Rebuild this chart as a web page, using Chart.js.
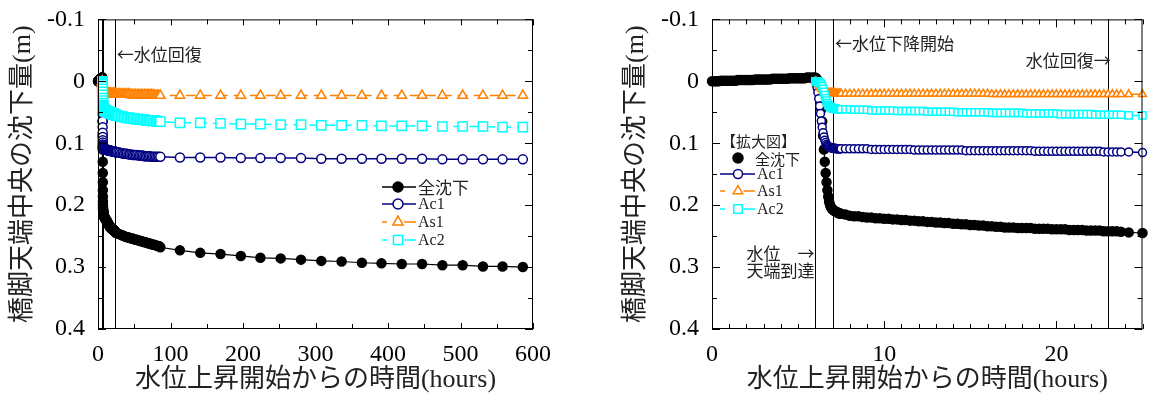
<!DOCTYPE html>
<html>
<head>
<meta charset="utf-8">
<script src="https://cdn.jsdelivr.net/npm/chart.js@4"></script>
<style>
html, body { margin: 0; padding: 0; background: #fff; }
#wrap { position: relative; width: 1149px; height: 396px; }
#leftBox { position: absolute; left: 0; top: 0; width: 575px; height: 396px; }
#rightBox { position: absolute; left: 575px; top: 0; width: 574px; height: 396px; }
</style>
</head>
<body>
<div id="wrap">
  <div id="leftBox"><canvas id="leftChart" width="575" height="396"></canvas></div>
  <div id="rightBox"><canvas id="rightChart" width="574" height="396"></canvas></div>
</div>
<script>
// 水位上昇中 0〜6 h (全沈下のみ)
const riseHours = [0,0.125,0.25,0.375,0.5,0.625,0.75,0.875,1,1.125,1.25,1.375,1.5,1.625,1.75,1.875,
  2,2.125,2.25,2.375,2.5,2.625,2.75,2.875,3,3.125,3.25,3.375,3.5,3.625,3.75,3.875,
  4,4.125,4.25,4.375,4.5,4.625,4.75,4.875,5,5.125,5.25,5.375,5.5,5.625,5.75,5.875];
const riseTotal = [0,0,0,0, -0.001,-0.001,-0.001,-0.001,-0.001,-0.001,-0.001,-0.001,
  -0.002,-0.002,-0.002,-0.002,-0.002,-0.002,-0.002,-0.002, -0.003,-0.003,-0.003,-0.003,-0.003,-0.003,-0.003,-0.003,
  -0.004,-0.004,-0.004,-0.004,-0.004,-0.004,-0.004,-0.004, -0.005,-0.005,-0.005,-0.005,-0.005,-0.005,-0.005,-0.005,
  -0.006,-0.006,-0.006,-0.006];

// 天端到達〜沈下 6〜7.5 h
const dropHours = [6,6.05,6.1,6.15,6.2,6.25,6.3,6.35,6.4,6.45,6.5,6.55,6.6,6.65,6.7,6.75,6.8,6.85,6.9,6.95,
  7,7.05,7.1,7.15,7.2,7.25,7.3,7.35,7.4,7.45,7.5];
const dropTotal = [-0.006,-0.005,-0.003,0.000,0.006,0.015,0.028,0.045,0.065,0.088,
  0.110,0.130,0.148,0.163,0.176,0.186,0.194,0.199,0.203,0.205,
  0.207,0.208,0.209,0.210,0.211,0.211,0.212,0.213,0.213,0.214,0.214];
const dropAc1 = [0,0.004,0.010,0.018,0.028,0.040,0.052,0.064,0.074,0.083,
  0.090,0.095,0.099,0.102,0.104,0.105,0.106,0.107,0.107,0.108,
  0.108,0.108,0.108,0.108,0.109,0.109,0.109,0.109,0.109,0.109,0.109];
const dropAs1 = [0,0.001,0.002,0.003,0.005,0.007,0.009,0.011,0.013,0.015,
  0.016,0.017,0.018,0.018,0.019,0.019,0.019,0.019,0.019,0.019,
  0.019,0.019,0.019,0.020,0.020,0.020,0.020,0.020,0.020,0.020,0.020];
const dropAc2 = [0,0,0,0.001,0.001,0.002,0.003,0.005,0.008,0.012,
  0.017,0.022,0.027,0.031,0.035,0.038,0.040,0.041,0.042,0.043,
  0.043,0.044,0.044,0.044,0.044,0.045,0.045,0.045,0.045,0.045,0.045];

// 7.75〜25 h
const flatHours = [7.75,8,8.25,8.5,8.75,9,9.25,9.5,9.75,10,10.25,10.5,10.75,11,11.25,11.5,11.75,12,
  12.25,12.5,12.75,13,13.25,13.5,13.75,14,14.25,14.5,14.75,15,15.25,15.5,15.75,16,16.25,16.5,16.75,17,
  17.25,17.5,17.75,18,18.25,18.5,18.75,19,19.25,19.5,19.75,20,20.25,20.5,20.75,21,21.25,21.5,21.75,22,
  22.25,22.5,22.75,23,23.25,23.5,23.75,24.2,25];
const flatTotal = [0.215,0.217,
  0.218,0.218,0.219,0.220, 0.220,0.221,0.221,0.222, 0.222,0.223,0.223,0.224, 0.224,0.225,0.225,0.226,
  0.226,0.227,0.227,0.228, 0.228,0.229,0.229,0.230, 0.230,0.231,0.231,0.232, 0.232,0.233,0.233,0.234,
  0.234,0.235,0.235,0.236, 0.236,0.236,0.237,0.237, 0.237,0.237,0.238,0.238, 0.238,0.238,0.239,0.239,
  0.239,0.239,0.240,0.240, 0.240,0.240,0.241,0.241, 0.241,0.241,0.242,0.242, 0.242,0.242,0.243, 0.244,0.245];
const flatAc1 = [0.109,0.109,
  0.109,0.109,0.109,0.109, 0.110,0.110,0.110,0.110, 0.110,0.110,0.110,0.110, 0.110,0.110,0.111,0.111,
  0.111,0.111,0.111,0.111, 0.111,0.111,0.111,0.111, 0.111,0.111,0.112,0.112, 0.112,0.112,0.112,0.112,
  0.112,0.112,0.112,0.112, 0.112,0.112,0.112,0.112, 0.112,0.112,0.113,0.113, 0.113,0.113,0.113,0.113,
  0.113,0.113,0.113,0.113, 0.113,0.113,0.113,0.113, 0.113,0.113,0.114,0.114, 0.114,0.114,0.114, 0.114,0.115];
const flatAs1 = [0.020,0.020,
  0.020,0.020,0.020,0.020, 0.020,0.020,0.020,0.020, 0.020,0.020,0.020,0.020, 0.020,0.020,0.020,0.020,
  0.020,0.020,0.020,0.020, 0.020,0.020,0.020,0.020, 0.020,0.020,0.020,0.020, 0.020,0.020,0.020,0.020,
  0.021,0.021,0.021,0.021, 0.021,0.021,0.021,0.021, 0.021,0.021,0.021,0.021, 0.021,0.021,0.021,0.021,
  0.021,0.021,0.021,0.021, 0.021,0.021,0.021,0.021, 0.021,0.021,0.021,0.021, 0.021,0.021,0.021, 0.021,0.021];
const flatAc2 = [0.045,0.045,
  0.046,0.046,0.046,0.046, 0.047,0.047,0.047,0.047, 0.047,0.047,0.048,0.048, 0.048,0.048,0.048,0.048,
  0.048,0.049,0.049,0.049, 0.049,0.049,0.049,0.049, 0.050,0.050,0.050,0.050, 0.050,0.050,0.050,0.050,
  0.051,0.051,0.051,0.051, 0.051,0.051,0.051,0.051, 0.052,0.052,0.052,0.052, 0.052,0.052,0.052,0.052,
  0.053,0.053,0.053,0.053, 0.053,0.053,0.053,0.053, 0.054,0.054,0.054,0.054, 0.054,0.054,0.054, 0.055,0.055];

// 全体図 26〜84 h
const midHours = [26,28,30,32,34,36,38,40,42,44,46,48,50,52,54,56,58,60,62,64,66,68,70,72,74,76,78,80,82,84];
const midTotal = [0.245,0.246,0.247,0.248,0.249,0.250,0.251,0.252,0.252,0.253,0.254,0.254,0.255,0.256,0.256,
  0.257,0.258,0.258,0.259,0.260,0.260,0.261,0.262,0.262,0.263,0.264,0.264,0.265,0.266,0.266];
const midAc1 = [0.114,0.115,0.115,0.116,0.116,0.117,0.117,0.117,0.118,0.118,0.118,0.119,0.119,0.119,0.119,
  0.120,0.120,0.120,0.120,0.121,0.121,0.121,0.121,0.121,0.122,0.122,0.122,0.122,0.122,0.122];
const midAs1 = [0.021,0.021,0.021,0.021,0.021,0.021,0.021,0.021,0.021,0.021,0.022,0.022,0.022,0.022,0.022,
  0.022,0.022,0.022,0.022,0.022,0.022,0.022,0.022,0.022,0.022,0.022,0.023,0.023,0.023,0.023];
const midAc2 = [0.055,0.056,0.056,0.057,0.057,0.058,0.058,0.059,0.059,0.059,0.060,0.060,0.060,0.061,0.061,
  0.061,0.062,0.062,0.062,0.062,0.063,0.063,0.063,0.063,0.064,0.064,0.064,0.064,0.065,0.065];

// 全体図 sparse points
const longHours = [86,113,141,169,197,224,252,280,308,336,364,391,419,447,475,503,531,558,586];
const longTotal = [0.268,0.273,0.277,0.279,0.282,0.285,0.286,0.288,0.290,0.291,0.293,0.294,0.295,0.295,0.297,0.297,0.299,0.299,0.300];
const longAc1 = [0.122,0.123,0.123,0.123,0.124,0.124,0.124,0.124,0.125,0.125,0.125,0.125,0.125,0.125,0.126,0.126,0.126,0.126,0.126];
const longAs1 = [0.023,0.023,0.023,0.023,0.023,0.023,0.023,0.023,0.023,0.023,0.023,0.023,0.023,0.023,0.023,0.023,0.023,0.023,0.023];
const longAc2 = [0.065,0.067,0.067,0.068,0.069,0.069,0.070,0.070,0.071,0.071,0.071,0.072,0.072,0.072,0.073,0.073,0.073,0.074,0.074];

const eventHours = [6, 7, 23];
const yTicks = [-0.1, 0, 0.1, 0.2, 0.3, 0.4];
const yTickLabels = ['-0.1', '0', '0.1', '0.2', '0.3', '0.4'];
const leftXTicks = [0, 100, 200, 300, 400, 500, 600];
const rightXTicks = [0, 10, 20];

const NAVY = '#000080', ORANGE = '#ff8000', CYAN = '#00ffff';
const serif = '"Liberation Serif", "Noto Sans CJK JP"';
const tickFont = {family: '"Liberation Serif"', size: 24};
const titleFont = {family: serif, size: 26};

function pts(hours, vals) {
  return hours.map((h, i) => ({x: h, y: vals[i]}));
}

function ds(label, data, color, style, r, dash, order, filled, bw) {
  return {
    label, data, order, clip: false,
    borderColor: color, borderWidth: bw, borderDash: dash,
    pointStyle: style, pointRadius: r, pointBorderWidth: 1.5,
    pointBorderColor: color, pointBackgroundColor: filled ? color : '#fff',
    pointHoverRadius: r, tension: 0, fill: false
  };
}

function marker(ctx, style, cx, cy, r, color, filled) {
  ctx.save();
  ctx.beginPath();
  if (style === 'circle') ctx.arc(cx, cy, r, 0, Math.PI * 2);
  else if (style === 'triangle') {
    ctx.moveTo(cx, cy - r);
    ctx.lineTo(cx + r * 0.866, cy + r * 0.5);
    ctx.lineTo(cx - r * 0.866, cy + r * 0.5);
    ctx.closePath();
  } else {
    const s = r * Math.SQRT1_2;
    ctx.rect(cx - s, cy - s, 2 * s, 2 * s);
  }
  ctx.fillStyle = filled ? color : '#fff';
  ctx.fill();
  ctx.lineWidth = 1.5;
  ctx.strokeStyle = color;
  ctx.stroke();
  ctx.restore();
}

function legendRow(ctx, row, x0, x1, mx, y) {
  ctx.save();
  ctx.strokeStyle = row.color;
  ctx.lineWidth = 1.5;
  if (row.line) {
    ctx.beginPath();
    if (row.dashed) {
      ctx.moveTo(x0, y); ctx.lineTo(x0 + 5, y);
      ctx.moveTo(mx + row.r, y); ctx.lineTo(x1, y);
    } else {
      ctx.moveTo(x0, y); ctx.lineTo(x1, y);
    }
    ctx.stroke();
  }
  marker(ctx, row.style, mx, y, row.r, row.color, row.filled);
  ctx.fillStyle = '#222';
  ctx.font = row.font;
  ctx.textAlign = 'left';
  ctx.textBaseline = 'middle';
  ctx.fillText(row.label, x1 + 2, y + 1);
  ctx.restore();
}

function framePlugin(cfg) {
  return {
    id: 'frame',
    beforeDatasetsDraw(chart) {
      const {ctx, chartArea: a, scales: {x}} = chart;
      ctx.save();
      ctx.strokeStyle = '#000';
      ctx.lineWidth = 1;
      ctx.beginPath();
      eventHours.forEach(h => {
        const px = Math.round(x.getPixelForValue(h)) + 0.5;
        ctx.moveTo(px, a.top); ctx.lineTo(px, a.bottom);
      });
      ctx.stroke();
      ctx.restore();
    },
    afterDraw(chart) {
      const {ctx, chartArea: a, scales: {x, y}} = chart;
      ctx.save();
      ctx.strokeStyle = '#000';
      ctx.lineWidth = 1;
      ctx.strokeRect(a.left + 0.5, a.top + 0.5, a.right - a.left - 1, a.bottom - a.top - 1);
      ctx.beginPath();
      const nx = Math.round(cfg.xMax / cfg.xStep);
      for (let k = 0; k <= nx; k++) {
        const v = k * cfg.xStep;
        const major = Math.abs(v / cfg.xMajor - Math.round(v / cfg.xMajor)) < 1e-6;
        const len = major ? cfg.xMajorLen : cfg.xMinorLen;
        const px = Math.round(x.getPixelForValue(v)) + 0.5;
        ctx.moveTo(px, a.bottom); ctx.lineTo(px, a.bottom - len);
        ctx.moveTo(px, a.top); ctx.lineTo(px, a.top + len);
      }
      for (let k = 0; k <= 10; k++) {
        const py = Math.round(y.getPixelForValue(-0.1 + k * 0.05)) + 0.5;
        const len = k % 2 === 0 ? 8 : 5;
        ctx.moveTo(a.left, py); ctx.lineTo(a.left + len, py);
        ctx.moveTo(a.right, py); ctx.lineTo(a.right - len, py);
      }
      ctx.stroke();

      ctx.fillStyle = '#222';
      ctx.font = '17px "Noto Sans CJK JP"';
      ctx.textBaseline = 'middle';
      cfg.notes.forEach(n => {
        ctx.textAlign = n.align;
        ctx.fillText(n.text, x.getPixelForValue(n.h), y.getPixelForValue(n.v));
      });
      cfg.legend(ctx);
      ctx.restore();
    }
  };
}

function options(cfg) {
  return {
    responsive: false,
    animation: false,
    layout: {padding: {top: 18, right: cfg.padRight, left: 0, bottom: 0}},
    plugins: {legend: {display: false}, tooltip: {enabled: false}},
    scales: {
      x: {
        type: 'linear', min: 0, max: cfg.xMax,
        afterBuildTicks: s => { s.ticks = cfg.xTicks.map(v => ({value: v})); },
        afterFit: s => { s.height = 67; },
        grid: {display: false}, border: {display: false},
        ticks: {color: '#000', font: tickFont, padding: 3, maxRotation: 0},
        title: {display: true, text: '水位上昇開始からの時間(hours)', color: '#222', font: titleFont,
                padding: {top: 0, bottom: 0}}
      },
      y: {
        type: 'linear', reverse: true, min: -0.1, max: 0.4,
        afterBuildTicks: s => { s.ticks = yTicks.map(v => ({value: v})); },
        afterFit: s => { s.width = cfg.yWidth; },
        grid: {display: false}, border: {display: false},
        ticks: {color: '#000', font: tickFont, padding: 5, callback: (v, i) => yTickLabels[i]},
        title: {display: true, text: '橋脚天端中央の沈下量(m)', color: '#222', font: titleFont,
                padding: {top: cfg.yTitlePad, bottom: 0}}
      }
    }
  };
}

// 拡大図のデータ (0〜25 h)
const zoomTotalPts = pts(riseHours, riseTotal).concat(pts(dropHours, dropTotal), pts(flatHours, flatTotal));
const zoomAc1Pts = pts(dropHours, dropAc1).concat(pts(flatHours, flatAc1));
const zoomAs1Pts = pts(dropHours, dropAs1).concat(pts(flatHours, flatAs1));
const zoomAc2Pts = pts(dropHours, dropAc2).concat(pts(flatHours, flatAc2));

// 左: 全体図
const leftLegendFont = '16px "Liberation Serif", "Noto Sans CJK JP"';
new Chart(document.getElementById('leftChart'), {
  type: 'line',
  data: {datasets: [
    ds('Ac2', zoomAc2Pts.concat(pts(midHours, midAc2), pts(longHours, longAc2)), CYAN, 'rect', 6.5, [10, 6], 1, false, 1.5),
    ds('As1', zoomAs1Pts.concat(pts(midHours, midAs1), pts(longHours, longAs1)), ORANGE, 'triangle', 5.5, [10, 6], 2, false, 1.5),
    ds('Ac1', zoomAc1Pts.concat(pts(midHours, midAc1), pts(longHours, longAc1)), NAVY, 'circle', 4.5, [], 3, false, 1.5),
    ds('全沈下', zoomTotalPts.concat(pts(midHours, midTotal), pts(longHours, longTotal)), '#000', 'circle', 4.5, [], 4, true, 1.2)
  ]},
  options: options({xMax: 600, xTicks: leftXTicks, padRight: 42, yWidth: 98, yTitlePad: 8}),
  plugins: [framePlugin({
    xMax: 600, xStep: 50, xMajor: 100, xMajorLen: 6, xMinorLen: 5,
    notes: [{h: 26, v: -0.043, text: '←水位回復', align: 'left'}],
    legend: ctx => {
      const rows = [
        {label: '全沈下', color: '#000', style: 'circle', r: 5, filled: true, line: true, font: '17px "Noto Sans CJK JP"'},
        {label: 'Ac1', color: NAVY, style: 'circle', r: 5, filled: false, line: true, font: leftLegendFont},
        {label: 'As1', color: ORANGE, style: 'triangle', r: 6, filled: false, line: true, dashed: true, font: leftLegendFont},
        {label: 'Ac2', color: CYAN, style: 'rect', r: 6.5, filled: false, line: true, dashed: true, font: leftLegendFont}
      ];
      const ys = [187, 204, 222, 240];
      rows.forEach((row, i) => legendRow(ctx, row, 382, 416, 398, ys[i]));
    }
  })]
});

// 右: 拡大図
const rightLegendFont = '16px "Liberation Serif", "Noto Sans CJK JP"';
new Chart(document.getElementById('rightChart'), {
  type: 'line',
  data: {datasets: [
    ds('Ac2', zoomAc2Pts, CYAN, 'rect', 5, [10, 6], 1, false, 1.5),
    ds('As1', zoomAs1Pts, ORANGE, 'triangle', 4.5, [10, 6], 2, false, 1.5),
    ds('Ac1', zoomAc1Pts, NAVY, 'circle', 4, [], 3, false, 1.5),
    ds('全沈下', zoomTotalPts, '#000', 'circle', 4.5, [], 4, true, 1.2)
  ]},
  options: options({xMax: 25, xTicks: rightXTicks, padRight: 2, yWidth: 137, yTitlePad: 46}),
  plugins: [framePlugin({
    xMax: 25, xStep: 1, xMajor: 10, xMajorLen: 8, xMinorLen: 5,
    notes: [
      {h: 7.15, v: -0.061, text: '←水位下降開始', align: 'left'},
      {h: 23.15, v: -0.034, text: '水位回復→', align: 'right'},
      {h: 2.0, v: 0.278, text: '水位　→', align: 'left'},
      {h: 2.0, v: 0.305, text: '天端到達', align: 'left'}
    ],
    legend: ctx => {
      const ox = -575;
      ctx.save();
      ctx.fillStyle = '#222';
      ctx.font = '15px "Noto Sans CJK JP"';
      ctx.textAlign = 'left';
      ctx.textBaseline = 'middle';
      ctx.fillText('【拡大図】', 721 + ox, 141);
      ctx.restore();
      legendRow(ctx, {label: '全沈下', color: '#000', style: 'circle', r: 5, filled: true, line: false,
        font: '15px "Noto Sans CJK JP"'}, 720 + ox, 753 + ox, 738 + ox, 158);
      const rows = [
        {label: 'Ac1', color: NAVY, style: 'circle', r: 4.5, filled: false, line: true, font: rightLegendFont},
        {label: 'As1', color: ORANGE, style: 'triangle', r: 5.5, filled: false, line: true, dashed: true, font: rightLegendFont},
        {label: 'Ac2', color: CYAN, style: 'rect', r: 6, filled: false, line: true, dashed: true, font: rightLegendFont}
      ];
      const ys = [174, 191, 209];
      rows.forEach((row, i) => legendRow(ctx, row, 720 + ox, 755 + ox, 738 + ox, ys[i]));
    }
  })]
});
</script>
</body>
</html>
